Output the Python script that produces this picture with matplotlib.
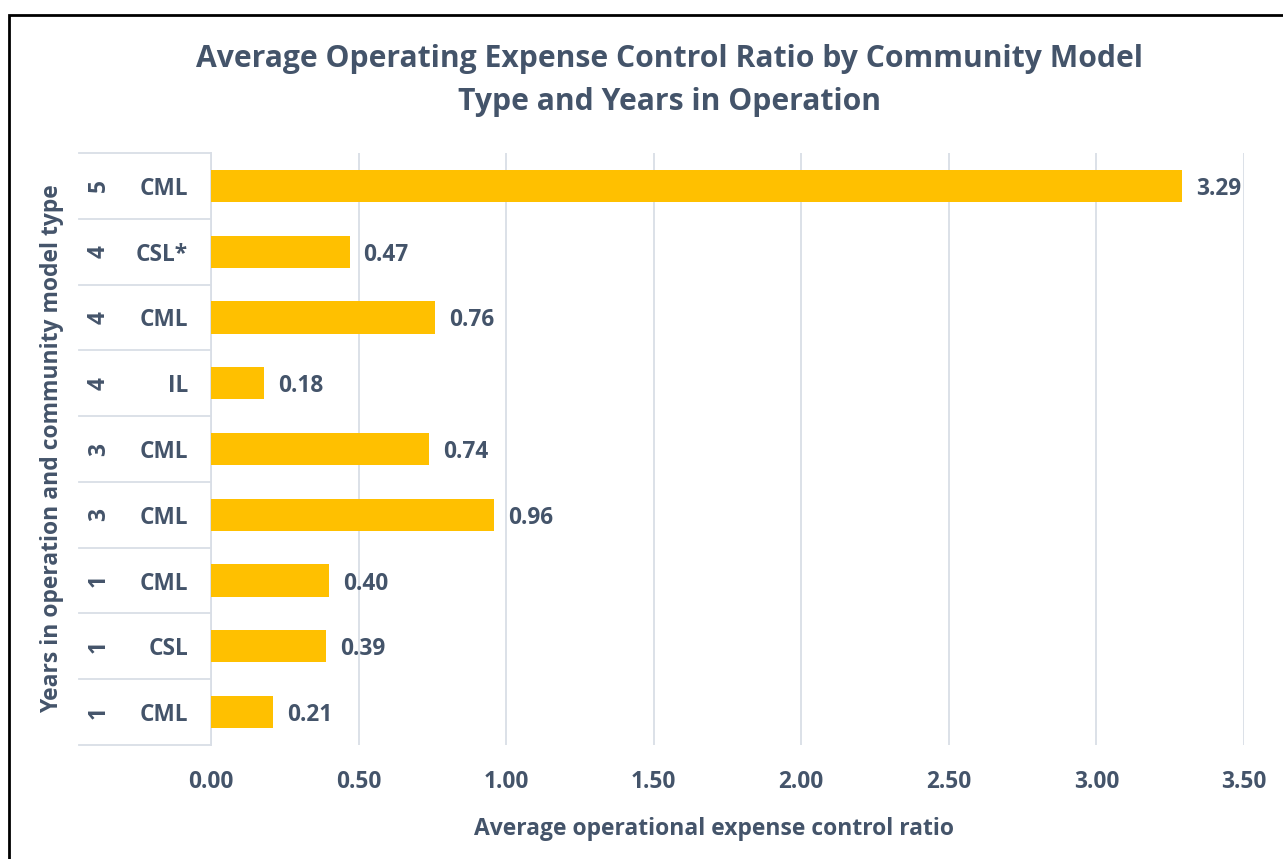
import matplotlib
matplotlib.use("Agg")
import matplotlib.pyplot as plt
from matplotlib.patches import Rectangle
from matplotlib.lines import Line2D
import matplotlib.transforms as mtransforms

# ---- data (bottom to top) ----
years = ["1", "1", "1", "3", "3", "4", "4", "4", "5"]
model_types = ["CML", "CSL", "CML", "CML", "CML", "IL", "CML", "CSL*", "CML"]
values = [0.21, 0.39, 0.40, 0.96, 0.74, 0.18, 0.76, 0.47, 3.29]
x_ticks = [0.0, 0.5, 1.0, 1.5, 2.0, 2.5, 3.0, 3.5]
title_lines = ["Average Operating Expense Control Ratio by Community Model",
               "Type and Years in Operation"]
x_label = "Average operational expense control ratio"
y_label = "Years in operation and community model type"

TEXT = "#44546A"
BAR = "#FFC000"
GRID = "#D9DEE6"
FONT = ["Open Sans", "DejaVu Sans"]
FS = 16.3

plt.rcParams["font.family"] = FONT

W, H = 1283, 859
fig = plt.figure(figsize=(W / 100, H / 100), dpi=100)

def fx(px):
    return px / W

def fy(py):
    return 1 - py / H

left, right, top, bottom = 211, 1244, 153, 745
ax = fig.add_axes([fx(left), fy(bottom), fx(right) - fx(left), fy(top) - fy(bottom)])

n = len(values)
pos = list(range(n))
ax.barh(pos, values, height=0.49, color=BAR, zorder=3)
ax.set_ylim(-0.5, n - 0.5)
ax.set_xlim(0, 3.5)
ax.set_xticks(x_ticks)
ax.set_xticklabels([f"{t:.2f}" for t in x_ticks], fontsize=FS, fontweight="bold", color=TEXT)
ax.tick_params(axis="x", length=0, pad=18)
ax.set_yticks([])
ax.grid(axis="x", color=GRID, linewidth=1.3, zorder=0)
for s in ["top", "right", "bottom"]:
    ax.spines[s].set_visible(False)
ax.spines["left"].set_color(GRID)
ax.spines["left"].set_linewidth(1.3)

# data labels
for p, v in zip(pos, values):
    ax.annotate(f"{v:.2f}", xy=(v, p), xytext=(10, 0), textcoords="offset points",
                va="center_baseline", ha="left", fontsize=FS, fontweight="bold", color=TEXT)

# multi-level category table
trans = mtransforms.blended_transform_factory(ax.transAxes, ax.transData)
tab_left = (79 - left) / (right - left)
for b in [i - 0.5 for i in range(n + 1)]:
    ax.add_line(Line2D([tab_left, 0], [b, b], transform=trans, color=GRID,
                       linewidth=1.3, clip_on=False))
inner_x = (188 - left) / (right - left)
outer_x = (99 - left) / (right - left)
for p, yr, mt in zip(pos, years, model_types):
    ax.text(inner_x, p, mt, transform=trans, ha="right", va="center_baseline",
            fontsize=FS, fontweight="bold", color=TEXT)
    ax.text(outer_x, p, yr, transform=trans, ha="center", va="center", rotation=90,
            fontsize=FS, fontweight="bold", color=TEXT)

# axis titles
fig.text(fx(52), fy((top + bottom) / 2), y_label, rotation=90, ha="center", va="center",
         fontsize=16.5, fontweight="bold", color=TEXT)
fig.text(fx(714), fy(835), x_label, ha="center", va="baseline",
         fontsize=16.5, fontweight="bold", color=TEXT)

# title
fig.text(fx(670), fy(67), title_lines[0], ha="center", va="baseline",
         fontsize=21.7, fontweight="bold", color=TEXT)
fig.text(fx(670), fy(110), title_lines[1], ha="center", va="baseline",
         fontsize=21.7, fontweight="bold", color=TEXT)

# outer border (right/bottom fall outside the image)
fig.patches.append(Rectangle((fx(8.7), fy(H + 30)), fx(W + 60), fy(14.7) - fy(H + 30),
                             transform=fig.transFigure, fill=False, edgecolor="black",
                             linewidth=2.0, figure=fig))

fig.savefig("out.png", dpi=100, facecolor="white")
